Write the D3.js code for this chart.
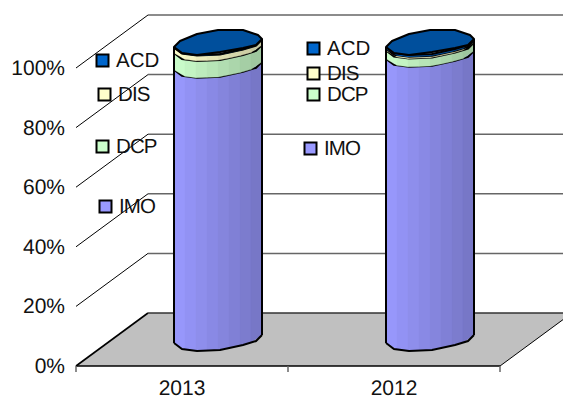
<!DOCTYPE html>
<html>
<head>
<meta charset="utf-8">
<script src="https://cdn.jsdelivr.net/npm/d3@7/dist/d3.min.js"></script>
<style>
html, body { margin: 0; padding: 0; background: #fff; }
svg { display: block; }
text { font-family: "Liberation Sans", Arial, sans-serif; fill: #111; text-rendering: geometricPrecision; }
</style>
</head>
<body>
<svg id="chart" width="563" height="400"></svg>
<script>
const categories = ["2013", "2012"];
const seriesNames = ["IMO", "DCP", "DIS", "ACD"];
const imoValues = [92.3, 96];
const dcpValues = [5.7, 2.8];
const disValues = [1.8, 0.6];
const acdValues = [0.2, 0.6];
const tickValues = [0, 20, 40, 60, 80, 100];
const seriesColors = ["#9999ff", "#ccffcc", "#ffffcc", "#0066cc"];
const legendSpots = [
  [[99, 200], [304, 142]],
  [[96, 140], [307, 88]],
  [[98, 88], [307, 67]],
  [[96, 54], [307, 42]]
];

const svg = d3.select("#chart");
const W = 563;
const frontLeft = 76, frontRight = 500;
const depthX = 72, depthY = -53;

const y = d3.scaleLinear().domain([0, 100]).range([366, 68]);
const x = d3.scaleBand().domain(categories).range([frontLeft, frontRight]);

// Floor of the box, cut off by the page edge
svg.append("polygon")
  .attr("points", [
    [frontLeft, y(0)], [frontRight, y(0)],
    [frontRight + depthX, y(0) + depthY], [frontLeft + depthX, y(0) + depthY]
  ].join(" "))
  .attr("fill", "#c0c0c0");

// Side and back wall grid lines
tickValues.forEach(t => {
  const g = svg.append("g");
  g.append("line")
    .attr("x1", frontLeft).attr("y1", y(t))
    .attr("x2", frontLeft + depthX).attr("y2", y(t) + depthY)
    .attr("stroke", "#000").attr("stroke-width", t === 0 ? 1.6 : 1);
  g.append("line")
    .attr("x1", frontLeft + depthX).attr("y1", y(t) + depthY)
    .attr("x2", W).attr("y2", y(t) + depthY)
    .attr("stroke", t === 0 ? "#333" : "#666").attr("stroke-width", 1.5);
});
svg.append("line")
  .attr("x1", frontRight).attr("y1", y(0))
  .attr("x2", frontRight + depthX).attr("y2", y(0) + depthY)
  .attr("stroke", "#000").attr("stroke-width", 1);

// Front edge of the floor with category ticks
svg.append("line")
  .attr("x1", frontLeft).attr("x2", frontRight)
  .attr("y1", y(0)).attr("y2", y(0))
  .attr("stroke", "#000").attr("stroke-width", 1.5);
[frontLeft, (frontLeft + frontRight) / 2, frontRight].forEach(px => {
  svg.append("line")
    .attr("x1", px).attr("x2", px)
    .attr("y1", y(0)).attr("y2", y(0) + 6)
    .attr("stroke", "#666").attr("stroke-width", 1.5);
});

// Axis labels
svg.append("g").selectAll("text").data(tickValues).join("text")
  .attr("x", 65).attr("y", d => y(d) + 7)
  .attr("text-anchor", "end").attr("font-size", 21)
  .text(d => d + "%");
svg.append("g").selectAll("text").data(categories).join("text")
  .attr("x", d => x(d) + x.bandwidth() / 2).attr("y", 395)
  .attr("text-anchor", "middle").attr("font-size", 21)
  .text(d => d);

// Faceted cross-section of a cylinder, as offsets from its axis
const rimOffsets = [
  [-44, 5], [-38, -1], [-21, -8], [0, -12], [25, -12],
  [40, -7], [44, -3], [38, 3], [25, 6], [2, 10], [-21, 13], [-36, 11]
];
const frontEdge = d3.scaleLinear()
  .domain([-44, -36, -21, 2, 25, 38, 44])
  .range([5, 11, 13, 12, 7, 3, -3]);
const facetEdges = d3.range(-44, 45, 11);
const shade = t => d3.scaleLinear().domain([-44, 44]).range([t, d3.rgb(t).darker(0.75)]);
const centerY = d3.scaleLinear().domain([0, 100]).range([338, 42]);
const axisOffset = depthX / 2;

function drawCylinder(cx, values) {
  let base = 0;
  values.forEach((v, s) => {
    const top = base + v;
    const color = shade(seriesColors[s]);
    // Vertical facets of the wall, lit from the left
    facetEdges.slice(0, -1).forEach((e0, i) => {
      const e1 = facetEdges[i + 1];
      const pts = [e0, e1].map(e => [cx + e, centerY(top) + frontEdge(e)])
        .concat([e1, e0].map(e => [cx + e, centerY(base) + frontEdge(e)]));
      svg.append("polygon")
        .attr("points", pts.join(" "))
        .attr("fill", color((e0 + e1) / 2))
        .attr("stroke", color((e0 + e1) / 2)).attr("stroke-width", 0.4);
    });
    const edge = frontEdge.domain().map(e => [cx + e, centerY(top) + frontEdge(e)]);
    svg.append("path")
      .attr("d", d3.line()(edge))
      .attr("fill", "none").attr("stroke", "#000").attr("stroke-width", 2);
    base = top;
  });
  const bottom = frontEdge.domain().map(e => [cx + e, centerY(0) + frontEdge(e)]);
  svg.append("path").attr("d", d3.line()(bottom))
    .attr("fill", "none").attr("stroke", "#000").attr("stroke-width", 2);
  // Side outlines from floor to the rim
  [-44, 44].forEach(e => {
    svg.append("line")
      .attr("x1", cx + e).attr("x2", cx + e)
      .attr("y1", centerY(0) + frontEdge(e)).attr("y2", centerY(base) + frontEdge(e))
      .attr("stroke", "#000").attr("stroke-width", 2);
  });
  // Top cap
  svg.append("polygon")
    .attr("points", rimOffsets.map(([dx, dy]) => [cx + dx, centerY(base) + dy]).join(" "))
    .attr("fill", "#004f9c")
    .attr("stroke", "#000").attr("stroke-width", 2).attr("stroke-linejoin", "round");
}

categories.forEach((c, i) => {
  drawCylinder(x(c) + x.bandwidth() / 2 + axisOffset,
    [imoValues[i], dcpValues[i], disValues[i], acdValues[i]]);
});

// Per-column legend entries
seriesNames.forEach((name, s) => {
  legendSpots[s].forEach(([lx, ly]) => {
    svg.append("rect")
      .attr("x", lx + 0.5).attr("y", ly + 0.5).attr("width", 12).attr("height", 12)
      .attr("fill", seriesColors[s]).attr("stroke", "#000").attr("stroke-width", 2);
    svg.append("text")
      .attr("x", lx + 20).attr("y", ly + 13)
      .attr("font-size", 20.5).attr("letter-spacing", name === "ACD" ? 0 : -0.9)
      .text(name);
  });
});
</script>
</body>
</html>
